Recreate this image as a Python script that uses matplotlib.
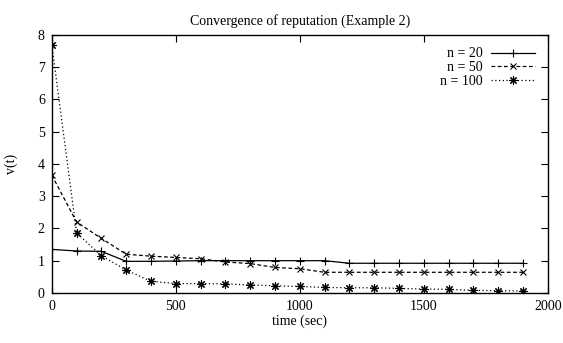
import matplotlib
matplotlib.use("Agg")
import matplotlib.pyplot as plt

# time steps (sec)
time = [0, 100, 200, 300, 400, 500, 600, 700, 800, 900, 1000,
        1100, 1200, 1300, 1400, 1500, 1600, 1700, 1800, 1900]

# v(t) for each population size
v_n20 = [1.35, 1.30, 1.29, 0.98, 0.98, 0.99, 1.0, 1.0, 1.0, 1.0, 1.0,
         1.0, 0.92, 0.92, 0.92, 0.92, 0.92, 0.92, 0.92, 0.92]
v_n50 = [3.65, 2.2, 1.69, 1.2, 1.14, 1.1, 1.06, 0.96, 0.91, 0.79, 0.75,
         0.64, 0.64, 0.64, 0.64, 0.64, 0.64, 0.64, 0.64, 0.64]
v_n100 = [7.7, 1.86, 1.15, 0.71, 0.36, 0.29, 0.29, 0.28, 0.25, 0.22, 0.2,
          0.17, 0.16, 0.16, 0.14, 0.12, 0.11, 0.08, 0.07, 0.06]

labels = ["n = 20", "n = 50", "n = 100"]

plt.rcParams['font.family'] = ['Liberation Serif', 'DejaVu Serif']
plt.rcParams['font.size'] = 10

fig = plt.figure(figsize=(5.63, 3.43), dpi=100)
ax = fig.add_axes([0.092, 0.146, 0.881, 0.752])

ax.plot(time, v_n20, color='black', lw=0.9, ls='-', marker='+', ms=6, mew=0.8, label=labels[0])
ax.plot(time, v_n50, color='black', lw=0.9, ls=(0, (3, 2)), marker='x', ms=5, mew=0.8, label=labels[1])
ax.plot(time, v_n100, color='black', lw=0.9, ls=(0, (1, 2)), marker=(8, 2, 0), ms=6, mew=0.8, label=labels[2])

ax.set_xlim(0, 2000)
ax.set_ylim(0, 8)
ax.set_xticks([0, 500, 1000, 1500, 2000])
ax.set_yticks(range(0, 9))
ax.tick_params(direction='in', top=True, right=True, length=5, width=0.8, labelsize=10, pad=5)
for s in ax.spines.values():
    s.set_linewidth(1.0)

ax.set_title("Convergence of reputation (Example 2)", fontsize=10, pad=7)
ax.set_xlabel("time (sec)", fontsize=10, labelpad=1)
ax.set_ylabel("v(t)", fontsize=10, labelpad=14)

ax.legend(loc='upper right', frameon=False, markerfirst=False, handlelength=3.2,
          fontsize=10, labelspacing=0.05, borderaxespad=0.5, handletextpad=0.6)

fig.savefig("out.png", dpi=100)
